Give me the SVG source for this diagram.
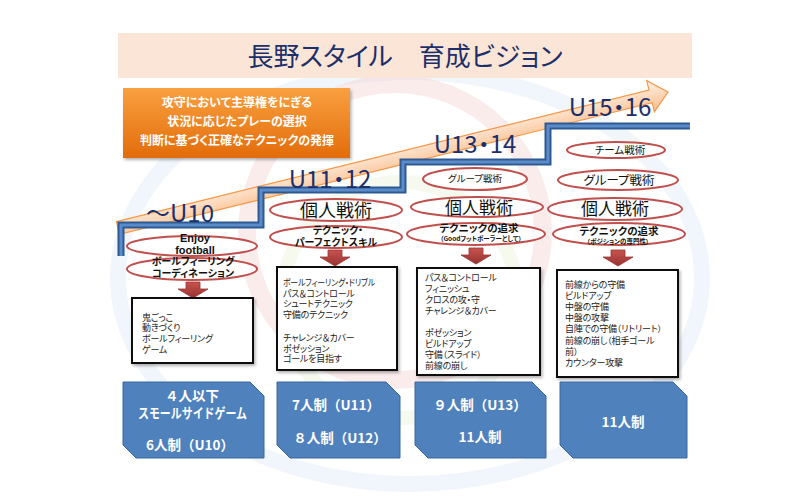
<svg xmlns="http://www.w3.org/2000/svg" width="800" height="500" viewBox="0 0 800 500">
<defs>
<style>
text{font-family:"Noto Sans CJK JP","Noto Sans",sans-serif;font-feature-settings:"palt";}
.title{font-size:26px;fill:#1B2F6B;}
.stage{font-size:24px;fill:#1B2F6B;}
.goal{font-size:12px;font-weight:bold;fill:#FFFFFF;}
.ell{fill:#FFFFFF;fill-opacity:0.9;stroke:#C0504D;stroke-width:2;}
.et{fill:#111111;text-anchor:middle;}
.b{font-weight:bold;}
.box{fill:#FFFFFF;stroke:#111111;stroke-width:2;}
.bt{font-size:9px;fill:#222222;letter-spacing:-0.2px;}
.fmt{fill:#4F81BD;stroke:#3A679E;stroke-width:1;}
.ft{font-size:13.5px;font-weight:bold;fill:#FFFFFF;text-anchor:middle;font-feature-settings:normal;}
.down{fill:url(#gDown);stroke:#9B3532;stroke-width:0.8;}
</style>
<linearGradient id="gOrange" x1="0" y1="0" x2="0" y2="1">
<stop offset="0" stop-color="#F9A040"/>
<stop offset="1" stop-color="#E36C0A"/>
</linearGradient>
<linearGradient id="gArrow" x1="0" y1="0" x2="0" y2="1">
<stop offset="0" stop-color="#FFF2E8"/>
<stop offset="1" stop-color="#F9B47A"/>
</linearGradient>
<linearGradient id="gDown" x1="0" y1="0" x2="0" y2="1">
<stop offset="0" stop-color="#C9534F"/>
<stop offset="1" stop-color="#963331"/>
</linearGradient>
<filter id="sh" x="-10%" y="-10%" width="125%" height="130%">
<feDropShadow dx="1.5" dy="2" stdDeviation="1.5" flood-color="#000000" flood-opacity="0.3"/>
</filter>
</defs>

<rect width="800" height="500" fill="#FFFFFF"/>

<!-- faint background logo rings -->
<g id="background" fill="none">
<ellipse cx="410" cy="278" rx="292" ry="206" stroke="#C9DCF2" stroke-width="16" stroke-opacity="0.25"/>
<circle cx="395" cy="232" r="148" stroke="#F4C9C9" stroke-width="18" stroke-opacity="0.35"/>
<circle cx="400" cy="300" r="118" stroke="#DDEBC8" stroke-width="14" stroke-opacity="0.3"/>
</g>

<g id="title">
<rect x="118" y="33" width="574" height="45" fill="#FBE5D6"/>
<text class="title" x="405" y="66" text-anchor="middle">長野スタイル　育成ビジョン</text>
</g>

<g id="goal">
<rect x="123" y="88" width="227" height="70" fill="url(#gOrange)" filter="url(#sh)"/>
<text class="goal" x="237" y="107" text-anchor="middle">攻守において主導権をにぎる</text>
<text class="goal" x="237" y="126" text-anchor="middle">状況に応じたプレーの選択</text>
<text class="goal" x="237" y="145" text-anchor="middle">判断に基づく正確なテクニックの発揮</text>
</g>

<g id="connectors">
<g id="growth-arrow" transform="translate(118,228) rotate(-13.89)">
<path d="M0,-6.5 L548.6,-6.5 L548.6,-16 L566.6,0 L548.6,16 L548.6,6.5 L0,6.5 Z" fill="url(#gArrow)" stroke="#F79646" stroke-width="1.2" fill-opacity="0.9"/>
</g>
<g id="staircase" fill="none" stroke-linejoin="miter">
<path d="M121,256 L121,225 L261,225 L261,190 L403,190 L403,162 L548,162 L548,126 L690,126" stroke="#2E5A93" stroke-width="7"/>
<path d="M121,256 L121,225 L261,225 L261,190 L403,190 L403,162 L548,162 L548,126 L690,126" stroke="#5B8BC9" stroke-width="3"/>
</g>
<path class="down" d="M186,282 H200 V289 H208 L193,298 L178,289 H186 Z"/>
<path class="down" d="M328,250 H342 V257 H350 L335,266 L320,257 H328 Z"/>
<path class="down" d="M469,248 H483 V255 H491 L476,264 L461,255 H469 Z"/>
<path class="down" d="M611,250 H625 V257 H633 L618,266 L603,257 H611 Z"/>
</g>

<g id="stage-u10">
<text class="stage" x="180" y="222" text-anchor="middle">～U10</text>
</g>
<g id="stage-u11">
<text class="stage" x="330" y="188" text-anchor="middle">U11・12</text>
</g>
<g id="stage-u13">
<text class="stage" x="475" y="153" text-anchor="middle">U13・14</text>
</g>
<g id="stage-u15">
<text class="stage" x="610" y="116" text-anchor="middle">U15・16</text>
</g>

<!-- column 1 -->
<g id="c1-enjoy">
<ellipse class="ell" cx="192" cy="246" rx="65" ry="10"/>
<text class="et b" x="195" y="242" style="font-family:'Liberation Sans',sans-serif;font-size:11px">Enjoy</text>
<text class="et b" x="195" y="254" style="font-family:'Liberation Sans',sans-serif;font-size:11px">football</text>
</g>
<g id="c1-ball">
<ellipse class="ell" cx="192" cy="269" rx="65" ry="11"/>
<text class="et b" x="193" y="265" font-size="10">ボールフィーリング</text>
<text class="et b" x="193" y="277" font-size="10">コーディネーション</text>
</g>
<g id="c1-box">
<rect class="box" x="132" y="298" width="121" height="65" filter="url(#sh)"/>
<text class="bt" x="142" y="320.5">鬼ごっこ</text>
<text class="bt" x="142" y="331">動きづくり</text>
<text class="bt" x="142" y="341.5">ボールフィーリング</text>
<text class="bt" x="142" y="352.5">ゲーム</text>
</g>

<!-- column 2 -->
<g id="c2-kojin">
<ellipse class="ell" cx="336" cy="210" rx="66" ry="11"/>
<text class="et" x="336" y="217" font-size="18">個人戦術</text>
</g>
<g id="c2-tech">
<ellipse class="ell" cx="336" cy="237" rx="66" ry="11"/>
<text class="et b" x="338" y="234" font-size="10">テクニック・</text>
<text class="et b" x="336" y="246" font-size="10">パーフェクトスキル</text>
</g>
<g id="c2-box">
<rect class="box" x="277" y="267" width="120" height="103" filter="url(#sh)"/>
<text class="bt" x="283" y="285.5" textLength="92" lengthAdjust="spacingAndGlyphs">ボールフィーリング・ドリブル</text>
<text class="bt" x="283" y="296.5">パス＆コントロール</text>
<text class="bt" x="283" y="307">シュートテクニック</text>
<text class="bt" x="283" y="318">守備のテクニック</text>
<text class="bt" x="283" y="340.5">チャレンジ＆カバー</text>
<text class="bt" x="283" y="351.5">ポゼッション</text>
<text class="bt" x="283" y="362">ゴールを目指す</text>
</g>

<!-- column 3 -->
<g id="c3-group">
<ellipse class="ell" cx="475" cy="179" rx="52" ry="11"/>
<text class="et" x="475" y="182" font-size="9.5">グループ戦術</text>
</g>
<g id="c3-kojin">
<ellipse class="ell" cx="477" cy="207" rx="66" ry="10"/>
<text class="et" x="479" y="213.5" font-size="17">個人戦術</text>
</g>
<g id="c3-tech">
<ellipse class="ell" cx="476" cy="234" rx="69" ry="11"/>
<text class="et b" x="479" y="232" font-size="10.5">テクニックの追求</text>
<text class="et b" x="481" y="241" font-size="6.5">（Goodフットボーラーとして）</text>
</g>
<g id="c3-box">
<rect class="box" x="417" y="268" width="123" height="107" filter="url(#sh)"/>
<text class="bt" x="425" y="280.5">パス＆コントロール</text>
<text class="bt" x="425" y="291.5">フィニッシュ</text>
<text class="bt" x="425" y="302.5">クロスの攻・守</text>
<text class="bt" x="425" y="313.5">チャレンジ＆カバー</text>
<text class="bt" x="425" y="335.5">ポゼッション</text>
<text class="bt" x="425" y="346.5">ビルドアップ</text>
<text class="bt" x="425" y="357.5">守備（スライド）</text>
<text class="bt" x="425" y="368.5">前線の崩し</text>
</g>

<!-- column 4 -->
<g id="c4-team">
<ellipse class="ell" cx="616" cy="150" rx="49" ry="8"/>
<text class="et" x="620" y="154" font-size="10.5">チーム戦術</text>
</g>
<g id="c4-group">
<ellipse class="ell" cx="618" cy="180" rx="60" ry="10"/>
<text class="et" x="619" y="185" font-size="12.5">グループ戦術</text>
</g>
<g id="c4-kojin">
<ellipse class="ell" cx="615" cy="209" rx="67" ry="11"/>
<text class="et" x="615" y="215" font-size="17">個人戦術</text>
</g>
<g id="c4-tech">
<ellipse class="ell" cx="619" cy="234" rx="66" ry="11"/>
<text class="et b" x="619" y="235" font-size="10.5">テクニックの追求</text>
<text class="et b" x="618" y="243.5" font-size="6.5">（ポジションの専門性）</text>
</g>
<g id="c4-box">
<rect class="box" x="557" y="270" width="121" height="107" filter="url(#sh)"/>
<text class="bt" x="565" y="287.5">前線からの守備</text>
<text class="bt" x="565" y="299">ビルドアップ</text>
<text class="bt" x="565" y="310">中盤の守備</text>
<text class="bt" x="565" y="321">中盤の攻撃</text>
<text class="bt" x="565" y="332">自陣での守備（リトリート）</text>
<text class="bt" x="565" y="344">前線の崩し（相手ゴール</text>
<text class="bt" x="565" y="355">前）</text>
<text class="bt" x="565" y="366">カウンター攻撃</text>
</g>

<!-- formats -->
<g id="f1">
<path class="fmt" d="M123,382 H250 L264,396 V458 H136 L123,445 Z"/>
<text class="ft" x="192" y="401">４人以下</text>
<text class="ft" x="192.5" y="418" textLength="109" lengthAdjust="spacingAndGlyphs">スモールサイドゲーム</text>
<text class="ft" x="190" y="450">6人制（U10）</text>
</g>
<g id="f2">
<path class="fmt" d="M277,382 H386 L400,396 V458 H290 L277,445 Z"/>
<text class="ft" x="336" y="410">7人制（U11）</text>
<text class="ft" x="340" y="443">８人制（U12）</text>
</g>
<g id="f3">
<path class="fmt" d="M415,382 H532 L546,396 V458 H428 L415,445 Z"/>
<text class="ft" x="480" y="410">９人制（U13）</text>
<text class="ft" x="480" y="442">11人制</text>
</g>
<g id="f4">
<path class="fmt" d="M560,382 H673 L687,396 V458 H573 L560,445 Z"/>
<text class="ft" x="623" y="427">11人制</text>
</g>
</svg>
